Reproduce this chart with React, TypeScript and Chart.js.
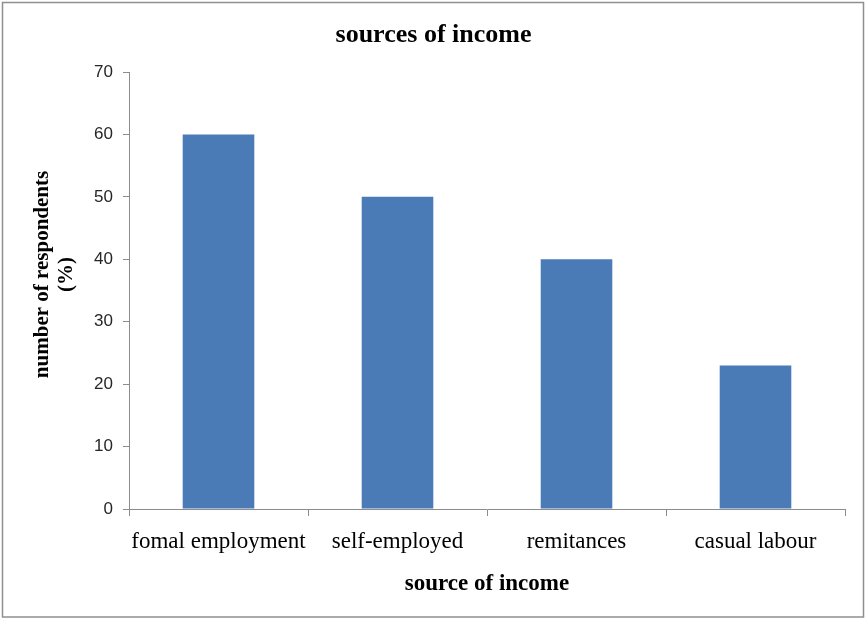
import React, { useEffect, useRef } from "react";
import { Chart, registerables } from "chart.js";

Chart.register(...registerables);

const categories = ["fomal employment", "self-employed", "remitances", "casual labour"];
const respondentsPct = [60, 50, 40, 23];
const yTickValues = [0, 10, 20, 30, 40, 50, 60, 70];
const chartTitle = "sources of income";
const xAxisTitle = "source of income";
const yAxisTitleLines = ["number of respondents", "(%)"];

const BAR_COLOR = "#4a7bb7";
const AXIS_COLOR = "#8c8c8c";

const overlayPlugin = {
  id: "overlayText",
  afterDraw(chart: any) {
    const ctx = chart.ctx as CanvasRenderingContext2D;
    const W = chart.width;
    const H = chart.height;
    ctx.save();
    // frame
    ctx.strokeStyle = "#8f8f8f";
    ctx.lineWidth = 1.5;
    ctx.strokeRect(2.5, 2.5, W - 4, H - 3.5);
    // main title
    ctx.fillStyle = "#000";
    ctx.font = 'bold 26px "Liberation Serif"';
    ctx.textAlign = "center";
    ctx.textBaseline = "alphabetic";
    ctx.fillText(chartTitle, W / 2 + 1, 42);
    // y axis title
    const area = chart.chartArea;
    ctx.translate(43, (area.top + area.bottom) / 2 - 16);
    ctx.rotate(-Math.PI / 2);
    ctx.font = 'bold 21px "Liberation Serif"';
    ctx.textBaseline = "middle";
    yAxisTitleLines.forEach((line, i) => ctx.fillText(line, 0, i * 24));
    ctx.restore();
  },
};

export default function App() {
  const canvasRef = useRef<HTMLCanvasElement | null>(null);

  useEffect(() => {
    if (!canvasRef.current) return;
    const chart = new Chart(canvasRef.current, {
      type: "bar",
      data: {
        labels: categories,
        datasets: [
          {
            label: "number of respondents (%)",
            data: respondentsPct,
            backgroundColor: BAR_COLOR,
            borderWidth: 0,
            categoryPercentage: 1,
            barPercentage: 0.4,
          },
        ],
      },
      options: {
        responsive: false,
        animation: false,
        devicePixelRatio: 1,
        layout: { padding: { left: 0, right: 20, top: 72, bottom: 0 } },
        plugins: {
          legend: { display: false },
          title: { display: false },
          tooltip: { enabled: false },
        },
        scales: {
          x: {
            grid: {
              display: true,
              drawOnChartArea: false,
              drawTicks: true,
              tickLength: 7,
              color: AXIS_COLOR,
              offset: true,
            },
            border: { display: true, color: AXIS_COLOR, width: 1 },
            ticks: {
              color: "#000",
              font: { family: '"Liberation Serif"', size: 23 },
              padding: 12,
              maxRotation: 0,
              autoSkip: false,
            },
            title: {
              display: true,
              text: xAxisTitle,
              color: "#000",
              font: { family: '"Liberation Serif"', size: 23, weight: "bold" },
              padding: { top: 0, bottom: 20 },
            },
            afterFit: (scale: any) => {
              scale.height = 109;
            },
          },
          y: {
            min: yTickValues[0],
            max: yTickValues[yTickValues.length - 1],
            grid: {
              display: true,
              drawOnChartArea: false,
              drawTicks: true,
              tickLength: 6,
              color: AXIS_COLOR,
            },
            border: { display: true, color: AXIS_COLOR, width: 1 },
            ticks: {
              stepSize: yTickValues[1] - yTickValues[0],
              color: "#262626",
              font: { family: '"Liberation Sans"', size: 17 },
              padding: 10,
            },
            afterFit: (scale: any) => {
              scale.width = 129;
            },
          },
        },
      },
      plugins: [overlayPlugin],
    });
    return () => chart.destroy();
  }, []);

  return (
    <div style={{ position: "absolute", left: 0, top: 0, width: 865, height: 618, background: "#fff" }}>
      <canvas ref={canvasRef} width={865} height={618} />
    </div>
  );
}
